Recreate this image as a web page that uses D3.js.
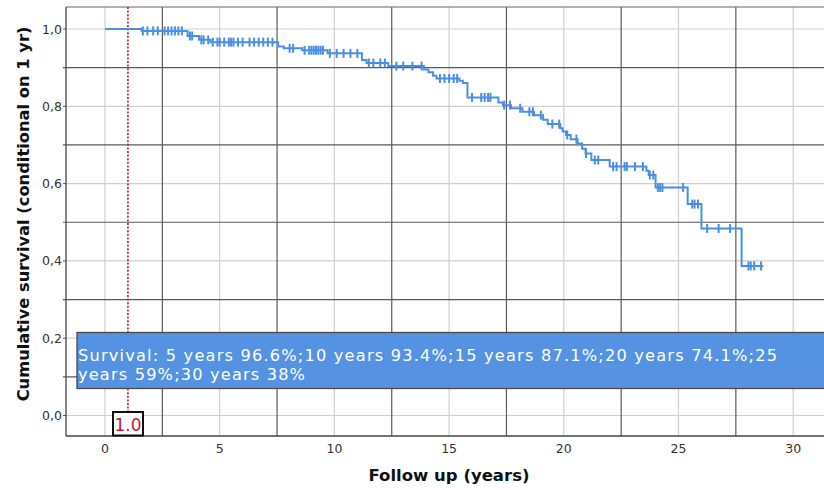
<!DOCTYPE html>
<html><head><meta charset="utf-8">
<script src="https://cdn.jsdelivr.net/npm/d3@7"></script>
<style>html,body{margin:0;padding:0;background:#fff;}svg{display:block;}</style>
</head><body>
<svg id="chart" width="824" height="490"></svg>
<script>
// ---- data ----
const eventTimes = [0, 1.6, 3.6, 4.1, 4.6, 7.55, 7.8, 8.6, 9.7, 11.2, 11.4, 12.35, 13.9, 14.1, 14.3, 14.45, 15.45, 15.6, 15.8, 17.15, 17.35, 17.7, 18.2, 18.7, 19.1, 19.3, 19.85, 19.95, 20.1, 20.3, 20.6, 20.8, 20.95, 21.2, 22.0, 23.6, 23.7, 24.0, 25.4, 26.0, 27.75];
const survival = [1.0, 0.995, 0.982, 0.972, 0.966, 0.955, 0.950, 0.945, 0.937, 0.920, 0.912, 0.904, 0.895, 0.888, 0.879, 0.872, 0.866, 0.860, 0.823, 0.810, 0.803, 0.795, 0.786, 0.777, 0.765, 0.754, 0.743, 0.735, 0.726, 0.715, 0.704, 0.690, 0.678, 0.661, 0.644, 0.633, 0.622, 0.590, 0.547, 0.484, 0.387];
const lastFollowUp = 28.7;
const censorTimes = [1.65, 1.85, 2.1, 2.3, 2.6, 2.75, 2.9, 3.05, 3.2, 3.35,
  3.7, 3.8, 4.2, 4.3, 4.5,
  4.7, 4.9, 5.0, 5.2, 5.4, 5.5, 5.6, 5.8, 6.0, 6.3, 6.5, 6.7, 6.9, 7.1, 7.3,
  8.05, 8.2, 8.7, 8.9, 9.0, 9.1, 9.2, 9.3, 9.4, 9.5,
  9.8, 10.1, 10.4, 10.7, 11.0, 11.5, 11.7, 12.0, 12.2, 12.7, 13.0, 13.4, 13.8,
  14.6, 14.8, 15.0, 15.2, 15.35, 16.0, 16.4, 16.55, 16.7, 16.8, 17.4, 17.65, 18.1, 18.5, 18.65,
  19.0, 19.5, 19.8, 20.15, 20.55, 20.97, 21.35, 21.5, 22.15, 22.3, 22.65, 22.75, 23.1, 23.45,
  23.75, 23.9, 24.1, 24.2, 24.3, 25.2, 25.6, 25.7, 25.85, 26.25, 26.75, 27.25,
  28.05, 28.15, 28.3, 28.6];
const xTicks = [0, 5, 10, 15, 20, 25, 30];
const yTicks = [0, 0.2, 0.4, 0.6, 0.8, 1.0];
const yTickLabels = ["0,0", "0,2", "0,4", "0,6", "0,8", "1,0"];
const xMid = [2.5, 7.5, 12.5, 17.5, 22.5, 27.5];
const yMid = [0.1, 0.3, 0.5, 0.7, 0.9];
const conditionTime = 1.0;
const conditionLabel = "1.0";
const bannerLines = ["Survival: 5 years 96.6%;10 years 93.4%;15 years 87.1%;20 years 74.1%;25", "years 59%;30 years 38%"];
const xTitle = "Follow up (years)";
const yTitle = "Cumulative survival (conditional on 1 yr)";

// ---- layout ----
const svg = d3.select("#chart");
const plot = {left: 66, right: 824, top: 7, bottom: 436};
const x = d3.scaleLinear().domain([0, 30]).range([105, 793.2]);
const y = d3.scaleLinear().domain([0, 1]).range([415.5, 29]);
const blue = "#4a8fe2";
const font = "'DejaVu Sans', Verdana, sans-serif";

const g = svg.append("g");
// light grid
g.selectAll(".gx").data(xTicks).join("line")
  .attr("x1", d => x(d)).attr("x2", d => x(d)).attr("y1", plot.top).attr("y2", plot.bottom)
  .attr("stroke", "#cfcfcf").attr("stroke-width", 1.2);
g.selectAll(".gy").data(yTicks).join("line")
  .attr("y1", d => y(d)).attr("y2", d => y(d)).attr("x1", plot.left).attr("x2", plot.right)
  .attr("stroke", "#cfcfcf").attr("stroke-width", 1.2);
// dark grid
g.selectAll(".dx").data(xMid).join("line")
  .attr("x1", d => x(d)).attr("x2", d => x(d)).attr("y1", plot.top).attr("y2", plot.bottom)
  .attr("stroke", "#5a5a5a").attr("stroke-width", 1.2);
g.selectAll(".dy").data(yMid).join("line")
  .attr("y1", d => y(d)).attr("y2", d => y(d)).attr("x1", plot.left - 3).attr("x2", plot.right)
  .attr("stroke", "#5a5a5a").attr("stroke-width", 1.2);
// y ticks
g.selectAll(".ty").data(yTicks).join("line")
  .attr("y1", d => y(d)).attr("y2", d => y(d)).attr("x1", plot.left - 3).attr("x2", plot.left)
  .attr("stroke", "#555").attr("stroke-width", 1);
// frame
g.append("line").attr("x1", plot.left).attr("x2", plot.right).attr("y1", plot.top).attr("y2", plot.top)
  .attr("stroke", "#666").attr("stroke-width", 1.2);
g.append("line").attr("x1", plot.left).attr("x2", plot.left).attr("y1", plot.top).attr("y2", plot.bottom)
  .attr("stroke", "#444").attr("stroke-width", 1.3);
g.append("line").attr("x1", plot.left).attr("x2", plot.right).attr("y1", plot.bottom).attr("y2", plot.bottom)
  .attr("stroke", "#444").attr("stroke-width", 1.3);

// tick labels
g.selectAll(".lx").data(xTicks).join("text")
  .attr("x", d => x(d)).attr("y", 453).attr("text-anchor", "middle")
  .attr("font-family", font).attr("font-size", 12.5).attr("fill", "#333").text(d => d);
g.selectAll(".ly").data(yTicks).join("text")
  .attr("x", 62).attr("y", d => y(d) + 4.5).attr("text-anchor", "end")
  .attr("font-family", font).attr("font-size", 12.5).attr("fill", "#333").text((d, i) => yTickLabels[i]);

// axis titles
svg.append("text").attr("x", 449).attr("y", 481).attr("text-anchor", "middle")
  .attr("font-family", font).attr("font-weight", "bold").attr("font-size", 16.5).attr("fill", "#111").text(xTitle);
svg.append("text").attr("transform", "translate(29,214) rotate(-90)").attr("text-anchor", "middle")
  .attr("font-family", font).attr("font-weight", "bold").attr("font-size", 16.3).attr("fill", "#111").text(yTitle);

// condition reference line
svg.append("line").attr("x1", x(conditionTime)).attr("x2", x(conditionTime))
  .attr("y1", plot.top).attr("y2", 412)
  .attr("stroke", "#c8143c").attr("stroke-width", 1.6).attr("stroke-dasharray", "2,1.6");

// survival curve
const pts = eventTimes.map((t, i) => [t, survival[i]]);
pts.push([lastFollowUp, survival[survival.length - 1]]);
const line = d3.line().x(d => x(d[0])).y(d => y(d[1])).curve(d3.curveStepAfter);
svg.append("path").attr("d", line(pts)).attr("fill", "none").attr("stroke", blue).attr("stroke-width", 2);
const bis = d3.bisector(d => d).right;
const sAt = t => survival[Math.max(0, bis(eventTimes, t) - 1)];
svg.selectAll(".cz").data(censorTimes).join("line")
  .attr("x1", d => x(d)).attr("x2", d => x(d))
  .attr("y1", d => y(sAt(d)) - 4.5).attr("y2", d => y(sAt(d)) + 4.5)
  .attr("stroke", blue).attr("stroke-width", 2);

// banner (one wrapped text block)
svg.append("rect").attr("x", 77).attr("y", 332.5).attr("width", 760).attr("height", 56)
  .attr("fill", "#5592e2").attr("stroke", "#4a4a4a").attr("stroke-width", 1.3);
const bannerWidths = [699, 227];
const bt = svg.append("text").attr("x", 78).attr("y", 360.5)
  .attr("font-family", font).attr("font-size", 16.2).attr("fill", "#fff");
bt.selectAll("tspan").data(bannerLines).join("tspan")
  .attr("x", 78).attr("dy", (d, i) => i === 0 ? 0 : 19.2)
  .attr("textLength", (d, i) => bannerWidths[i]).attr("lengthAdjust", "spacing")
  .text(d => d);

// condition label box
svg.append("rect").attr("x", 113).attr("y", 412).attr("width", 30).attr("height", 23.5)
  .attr("fill", "#fff").attr("stroke", "#111").attr("stroke-width", 2);
svg.append("text").attr("x", x(conditionTime)).attr("y", 431).attr("text-anchor", "middle")
  .attr("font-family", font).attr("font-size", 17).attr("fill", "#c8143c").text(conditionLabel);
</script>
</body></html>
